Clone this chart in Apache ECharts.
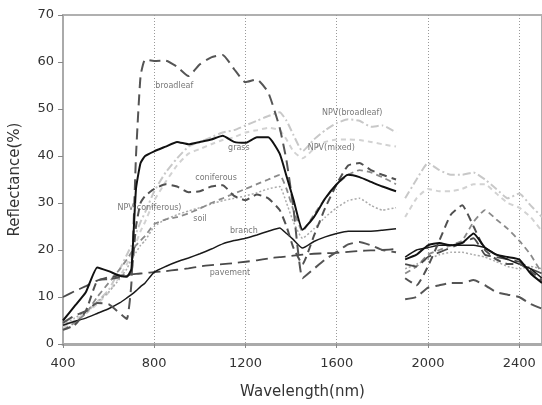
<!DOCTYPE html>
<html>
<head>
<meta charset="utf-8">
<script src="https://cdn.jsdelivr.net/npm/echarts@6/dist/echarts.min.js"></script>
<style>
  html, body { margin: 0; padding: 0; background: #fff; }
  #chart { width: 542px; height: 405px; }
</style>
</head>
<body>
<div id="chart"></div>
<script>
// wavelength grid (nm); null row at 1880 = water absorption gap
const wl = [400, 450, 500, 550, 600, 650, 680, 700, 720, 740,
  760, 800, 850, 900, 950, 1000, 1050, 1100, 1150, 1200,
  1250, 1300, 1350, 1380, 1410, 1450, 1500, 1550, 1600, 1650,
  1700, 1750, 1800, 1860, 1880, 1900, 1950, 2000, 2050, 2100,
  2150, 2200, 2250, 2300, 2350, 2400, 2450, 2500];

const broadleaf = [4.5, 6, 7, 8.7, 8.5, 6.5, 5.3, 13, 40, 57,
  60.5, 60.2, 60.3, 59, 57, 59.5, 61, 61.5, 58.5, 55.7,
  56.3, 53.5, 46, 39, 29, 14, 16, 18, 19.6, 21.2,
  21.7, 21, 20, 19.5, null, 9.5, 10, 12, 12.5, 13,
  13, 13.6, 12.5, 11, 10.5, 10, 8.5, 7.5];

const grass = [5, 8, 11, 16.3, 15.5, 14.5, 14.3, 16, 33, 38.5,
  40, 41, 42, 43, 42.5, 43, 43.5, 44.3, 43, 42.8,
  44, 44, 40.5, 35.7, 30.8, 24.3, 27, 31, 34, 36,
  35.5, 34.5, 33.5, 32.5, null, 18, 19, 21, 21.5, 21,
  21.5, 23.5, 20.5, 19, 18.5, 18, 15, 13];

const coniferous = [3, 4, 7, 13.5, 13.8, 14.2, 14.5, 15, 25, 30,
  31.5, 33, 34, 33.5, 32.3, 32.5, 33.5, 33.8, 31.5, 30.6,
  31.8, 31, 28.5, 25, 20.5, 17, 23, 29, 34, 38,
  38.5, 37, 36, 35, null, 14, 12.5, 16.5, 22, 27.5,
  29.5, 25, 20, 18, 17, 17, 15.5, 13.5];

const soil = [3, 4.5, 6.5, 10, 13, 16, 18, 19.5, 21, 22,
  23, 25.5, 26.5, 27, 27.8, 28.8, 30, 31, 32, 33,
  34, 35, 36, 33, 28.5, 24, 27.5, 31, 34, 36,
  37, 36.5, 35.5, 34, null, 15, 16.5, 19, 20, 21,
  22, 26, 28.5, 26.5, 24.5, 22, 19, 15];

const npvConiferous = [4, 5.5, 7, 9, 11, 14, 16, 18, 19.5, 21,
  22, 25, 26.5, 27.5, 28.3, 29, 29.8, 30.5, 31, 31.5,
  32.2, 33, 33.5, 30, 26, 22.5, 24.5, 27, 29, 30.5,
  31, 29.5, 28.5, 29, null, 16, 17, 18, 19, 19.5,
  19.5, 19, 18.5, 17.5, 16.5, 16, 16.5, 16];

const npvBroadleaf = [4, 5, 6.5, 9, 11.5, 16, 19, 21, 23.5, 26,
  28, 32.5, 36.5, 39.5, 42, 43, 44, 45, 45.5, 46.5,
  47.5, 48.5, 49.3, 47.5, 44.5, 41, 43.5, 45.5, 47, 47.8,
  47.5, 46.2, 46.5, 45, null, 31, 35, 38.5, 37, 36,
  36, 36.5, 35, 33, 31, 32, 29.5, 27];

const npvMixed = [3.5, 5, 6.5, 8.5, 11, 14.5, 17, 19, 21.5, 24,
  26, 30.5, 34.5, 38, 40.5, 41.5, 42.5, 43.4, 44, 45,
  45.5, 46, 45.5, 43.5, 41, 39.5, 41.5, 43, 43.5, 43.5,
  43.4, 43, 42.5, 42, null, 27, 31, 33, 32.5, 32.5,
  33, 34, 34, 32, 30, 29, 27, 24];

const branch = [4, 4.8, 5.5, 6.5, 7.5, 8.8, 9.8, 10.5, 11.3, 12.2,
  13, 15.3, 16.5, 17.5, 18.3, 19.2, 20.2, 21.3, 22, 22.5,
  23.2, 24, 24.7, 23.5, 22.2, 20.4, 21.8, 22.8, 23.5, 24,
  24, 24, 24.2, 24.5, null, 18.5, 20, 20.5, 21, 21,
  21, 21, 20.5, 19, 18, 17, 16, 14];

const pavement = [10, 11.2, 12.3, 13.5, 14.2, 14.6, 14.7, 14.8, 14.9, 15,
  15.1, 15.3, 15.5, 15.8, 16.1, 16.5, 16.8, 17, 17.2, 17.5,
  17.8, 18.2, 18.5, 18.6, 18.8, 19, 19.2, 19.3, 19.4, 19.6,
  19.8, 19.9, 20, 20.2, null, 17, 16.5, 18.5, 19.5, 20.5,
  21.5, 22.5, 19, 18.5, 18, 17.5, 16, 15];

// in-plot curve labels
const labelText = ['broadleaf', 'grass', 'coniferous', 'NPV(coniferous)', 'soil',
  'branch', 'pavement', 'NPV(broadleaf)', 'NPV(mixed)'];
const labelNm = [888, 1171, 1071, 779, 1001, 1193, 1132, 1668, 1576];
const labelVal = [54.9, 41.7, 35.3, 28.9, 26.6, 24.0, 15.1, 49.1, 41.7];

const xTicks = [400, 800, 1200, 1600, 2000, 2400];

const chart = echarts.init(document.getElementById('chart'));

const pairs = (vals) => wl.map((w, i) => [w, vals[i]]);

function line(name, vals, color, width, type) {
  return {
    name: name,
    type: 'line',
    data: pairs(vals),
    showSymbol: false,
    connectNulls: false,
    smooth: 0.15,
    lineStyle: { color: color, width: width, type: type },
    z: 2
  };
}

const option = {
  animation: false,
  backgroundColor: '#fff',
  grid: {
    left: 61, right: -2, top: 15, bottom: 61,
    show: true, borderColor: '#b0b0b0', borderWidth: 2
  },
  xAxis: {
    type: 'value',
    min: 400,
    max: 2500,
    interval: 400,
    name: 'Wavelength(nm)',
    nameLocation: 'middle',
    nameGap: 41,
    nameTextStyle: { fontFamily: 'DejaVu Sans', fontSize: 15, color: '#333' },
    axisLine: { lineStyle: { color: '#aaa', width: 3 } },
    axisTick: { show: true, length: 4, lineStyle: { color: '#888' } },
    axisLabel: {
      fontFamily: 'DejaVu Sans', fontSize: 13, color: '#333', margin: 13,
      showMaxLabel: false,
      formatter: (v) => xTicks.includes(v) ? String(v) : ''
    },
    splitLine: { show: true, lineStyle: { color: '#999', type: [1, 2], width: 1 } }
  },
  yAxis: {
    type: 'value',
    min: 0,
    max: 70,
    interval: 10,
    name: 'Reflectance(%)',
    nameLocation: 'middle',
    nameGap: 40,
    nameTextStyle: { fontFamily: 'DejaVu Sans', fontSize: 15, color: '#333' },
    axisLine: { show: true, lineStyle: { color: '#aaa', width: 2 } },
    axisTick: { show: true, length: 5, lineStyle: { color: '#888' } },
    axisLabel: { fontFamily: 'DejaVu Sans', fontSize: 13, color: '#333', margin: 9 },
    splitLine: { show: false }
  },
  series: [
    line('NPV(broadleaf)', npvBroadleaf, '#c8c8c8', 2, [8, 3, 2, 3]),
    line('NPV(mixed)', npvMixed, '#d2d2d2', 2, [5, 4]),
    line('NPV(coniferous)', npvConiferous, '#aaaaaa', 1.5, [2, 2]),
    line('soil', soil, '#8a8a8a', 1.8, [6, 4]),
    line('pavement', pavement, '#4a4a4a', 1.8, [12, 6]),
    line('branch', branch, '#1a1a1a', 1.5, 'solid'),
    line('coniferous', coniferous, '#505050', 2, [8, 5]),
    line('broadleaf', broadleaf, '#555555', 2, [11, 6]),
    line('grass', grass, '#111111', 2, 'solid'),
    {
      name: 'labels',
      type: 'scatter',
      symbolSize: 0,
      silent: true,
      z: 5,
      data: labelText.map((t, i) => ({ value: [labelNm[i], labelVal[i]], name: t })),
      label: {
        show: true,
        position: 'inside',
        formatter: (p) => p.name,
        fontFamily: 'DejaVu Sans',
        fontSize: 8,
        color: '#555'
      }
    }
  ]
};

chart.setOption(option);
</script>
</body>
</html>
